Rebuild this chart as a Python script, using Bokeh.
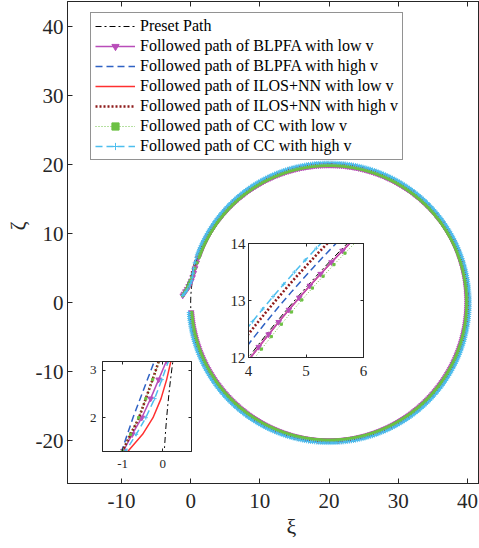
import numpy as np
from bokeh.plotting import figure
from bokeh.models import (ColumnDataSource, Range1d, LinearAxis, FixedTicker,
                          Legend, LegendItem, PrintfTickFormatter, Title)
from bokeh.layouts import column
from bokeh.embed import file_html
from bokeh.resources import INLINE

# ---------------- data ----------------
circle_center_xi = 20.0
circle_center_zeta = 0.0
preset_radius = 20.0
preset_arc_deg = [0.0, 360.0]

# approach part of every followed path (xi at these zeta values)
approach_zeta = [1.05, 1.3, 1.65, 2.0, 2.4, 2.8, 3.2, 3.7, 4.3, 5.0, 5.8, 6.6]
blpfa_low_xi = [-1.15, -0.98, -0.76, -0.52, -0.30, -0.10, 0.10, 0.28, 0.45, 0.64, 0.88, 1.15]
blpfa_high_xi = [-1.15, -1.02, -0.88, -0.74, -0.56, -0.38, -0.20, 0.00, 0.20, 0.42, 0.68, 0.96]
ilos_low_xi = [-1.15, -0.86, -0.50, -0.24, -0.04, 0.10, 0.21, 0.33, 0.48, 0.65, 0.88, 1.14]
ilos_high_xi = [-1.15, -1.00, -0.80, -0.59, -0.42, -0.25, -0.09, 0.06, 0.21, 0.39, 0.61, 0.86]
cc_low_xi = [-1.15, -1.00, -0.80, -0.60, -0.42, -0.25, -0.08, 0.14, 0.37, 0.62, 0.92, 1.22]
cc_high_xi = [-1.15, -0.92, -0.66, -0.42, -0.20, -0.02, 0.15, 0.24, 0.31, 0.40, 0.58, 0.80]

# radius kept by each followed path once it is on the circle
blpfa_low_radius = 19.97
blpfa_high_radius = 20.14
ilos_low_radius = 19.97
ilos_high_radius = 20.25
cc_low_radius = 19.91
cc_high_radius = 20.33
followed_arc_deg = [20.0, 356.4]
arc_step_deg = 0.8

legend_labels = [
    "Preset Path",
    "Followed path of BLPFA with low v",
    "Followed path of BLPFA with high v",
    "Followed path of ILOS+NN with low v",
    "Followed path of ILOS+NN with high v",
    "Followed path of CC with low v",
    "Followed path of CC with high v",
]

x_label = "ξ"
y_label = "ζ"
x_ticks = [-10, 0, 10, 20, 30, 40]
y_ticks = [-20, -10, 0, 10, 20, 30, 40]
inset1_x_ticks = [4, 5, 6]
inset1_y_ticks = [12, 13, 14]
inset2_x_ticks = [-1, 0]
inset2_y_ticks = [2, 3]


def arc(radius, start_deg, end_deg):
    ang = np.deg2rad(np.arange(start_deg, end_deg + 1e-6, arc_step_deg))
    return (circle_center_xi - radius * np.cos(ang),
            circle_center_zeta + radius * np.sin(ang))


def followed(xi_nodes, radius):
    ax, ay = arc(radius, *followed_arc_deg)
    return (list(xi_nodes) + list(ax), list(approach_zeta) + list(ay))


px, py = arc(preset_radius, *preset_arc_deg)
paths = {
    "preset": (list(px), list(py)),
    "blpfa_low": followed(blpfa_low_xi, blpfa_low_radius),
    "blpfa_high": followed(blpfa_high_xi, blpfa_high_radius),
    "ilos_low": followed(ilos_low_xi, ilos_low_radius),
    "ilos_high": followed(ilos_high_xi, ilos_high_radius),
    "cc_low": followed(cc_low_xi, cc_low_radius),
    "cc_high": followed(cc_high_xi, cc_high_radius),
}
sources = {k: ColumnDataSource(dict(x=v[0], y=v[1])) for k, v in paths.items()}

legend_order = ["preset", "blpfa_low", "blpfa_high", "ilos_low", "ilos_high", "cc_low", "cc_high"]
draw_order = ["preset", "ilos_low", "blpfa_low", "blpfa_high", "ilos_high", "cc_low", "cc_high"]

styles = {
    "preset": dict(color="black", width=1.0, dash="6 3 2 3", marker=None),
    "blpfa_low": dict(color="#B94DB9", width=1.5, dash="solid", marker="inverted_triangle", size=5.5),
    "blpfa_high": dict(color="#2F62C4", width=1.5, dash="7 4", marker=None),
    "ilos_low": dict(color="#FF3030", width=1.5, dash="solid", marker=None),
    "ilos_high": dict(color="#8E1B1B", width=2.6, dash="2 2", marker=None),
    "cc_low": dict(color="#6CC043", width=1.0, dash="1 2", marker="square", size=2.2),
    "cc_high": dict(color="#4DBEEE", width=1.5, dash="7 4", marker="cross", size=4),
}

AX = "#262626"
FONT = "Liberation Serif"


def draw(fig):
    rends = {}
    for key in draw_order:
        st = styles[key]
        src = sources[key]
        r = [fig.line("x", "y", source=src, line_color=st["color"], line_width=st["width"],
                      line_dash=st["dash"])]
        if st["marker"]:
            r.append(fig.scatter("x", "y", source=src, marker=st["marker"], size=st["size"],
                                 fill_color=st["color"], line_color=st["color"], line_width=1))
        rends[key] = r
    return rends


def style_axis(ax, font_size, standoff, tick_len):
    ax.major_tick_in = tick_len
    ax.major_tick_out = 0
    ax.minor_tick_in = 0
    ax.minor_tick_out = 0
    ax.axis_line_color = AX
    ax.major_tick_line_color = AX
    ax.major_label_text_font = FONT
    ax.major_label_text_font_size = font_size
    ax.major_label_text_color = AX
    ax.major_label_standoff = standoff
    ax.formatter = PrintfTickFormatter(format="%d")


def box_axes(fig, xt, yt, tick_len, right=True):
    top = LinearAxis(ticker=FixedTicker(ticks=xt))
    style_axis(top, "1px", 0, tick_len)
    top.major_label_overrides = {t: "" for t in xt}
    fig.add_layout(top, "above")
    if right:
        rt = LinearAxis(ticker=FixedTicker(ticks=yt))
        style_axis(rt, "1px", 0, tick_len)
        rt.major_label_overrides = {t: "" for t in yt}
        fig.add_layout(rt, "right")


# ---------------- main plot ----------------
p = figure(width=479, height=548, x_range=Range1d(-17.8, 41.74), y_range=Range1d(-26.19, 43.67),
           output_backend="svg", toolbar_location=None, frame_align=False,
           min_border_left=67, min_border_right=0, min_border_top=1, min_border_bottom=65,
           background_fill_color="white", border_fill_color="white", outline_line_color=AX)
p.grid.visible = False
xax = p.xaxis[0]
yax = p.yaxis[0]
xax.ticker = FixedTicker(ticks=x_ticks)
yax.ticker = FixedTicker(ticks=y_ticks)
style_axis(xax, "21px", 10, 5)
style_axis(yax, "21px", 4, 5)
box_axes(p, x_ticks, y_ticks, 5, right=False)

# axis titles, shifted along the axes like the reference (its axes box runs past the right edge)
p.add_layout(Title(text=x_label, align="left", offset=219, standoff=2, vertical_align="bottom",
                   text_font=FONT, text_font_size="22px", text_font_style="normal",
                   text_color=AX), "below")
p.add_layout(Title(text=y_label, align="left", offset=253, standoff=3, vertical_align="middle",
                   text_font=FONT, text_font_size="22px", text_font_style="normal",
                   text_color=AX), "left")

main_r = draw(p)
items = [LegendItem(label=lab, renderers=main_r[k]) for lab, k in zip(legend_labels, legend_order)]
legend = Legend(items=items, location=(23, 323), label_text_font=FONT, label_text_font_size="16px",
                label_text_color="black", glyph_width=40, glyph_height=18, label_height=18,
                label_standoff=5, spacing=2, padding=4, margin=0,
                border_line_color=AX, border_line_width=1, background_fill_color="white",
                background_fill_alpha=1.0)
p.add_layout(legend)


# ---------------- insets ----------------
def inset(xr, yr, xt, yt, frame_left, frame_top, fw, fh, font_size, bl, bb, y_standoff, x_standoff):
    bt, br = 10, 8
    f = figure(width=bl + fw + br, height=bt + fh + bb, x_range=Range1d(*xr), y_range=Range1d(*yr),
               output_backend="svg", toolbar_location=None, frame_align=False,
               min_border_left=bl, min_border_right=br, min_border_top=bt, min_border_bottom=bb,
               background_fill_color="white", border_fill_color=None, outline_line_color=AX,
               styles={"position": "absolute", "left": f"{frame_left - bl}px",
                       "top": f"{frame_top - bt}px"})
    f.grid.visible = False
    fx = f.xaxis[0]
    fy = f.yaxis[0]
    fx.ticker = FixedTicker(ticks=xt)
    fy.ticker = FixedTicker(ticks=yt)
    style_axis(fx, font_size, x_standoff, 3)
    style_axis(fy, font_size, y_standoff, 3)
    box_axes(f, xt, yt, 3)
    draw(f)
    return f


ins1 = inset((4, 6), (12, 14), inset1_x_ticks, inset1_y_ticks, 248, 243, 115, 114, "15px", 30, 30, 3, 8)
ins2 = inset((-1.5, 0.72), (1.29, 3.18), inset2_x_ticks, inset2_y_ticks, 102, 361, 89, 90, "13px", 24, 30, 6, 8)

layout = column(p, ins1, ins2)
open("out.html", "w").write(file_html(layout, INLINE))
